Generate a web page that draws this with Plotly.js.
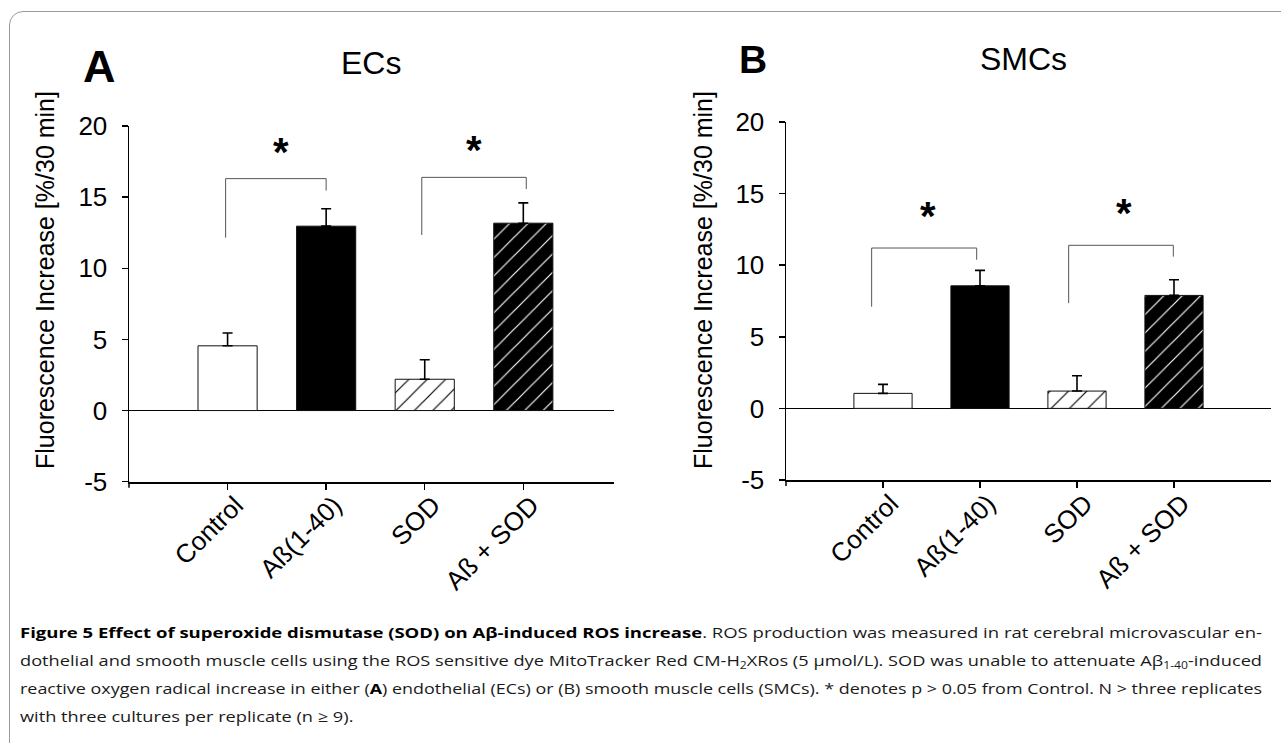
<!DOCTYPE html>
<html>
<head>
<meta charset="utf-8">
<script src="https://cdn.plot.ly/plotly-3.0.1.min.js"></script>
<style>
  html, body { margin: 0; padding: 0; background: #fff; }
  #wrap { position: relative; width: 1281px; height: 743px; overflow: hidden; }
  #chart { position: absolute; left: 0; top: 0; width: 1281px; height: 743px; }
  #frame { position: absolute; left: 9px; top: 11px; width: 1320px; height: 780px;
           border: 1px solid #9a9a9a; border-radius: 14px; pointer-events: none; }
  #caption { position: absolute; left: 20px; top: 618px; width: 1242px;
             font-family: "Open Sans", "Noto Sans", sans-serif; font-size: 15px; color: #1a1a1a; }
  #caption .ln { white-space: nowrap; height: 28px; line-height: 28px; transform-origin: 0 50%; display: block; width: max-content; }
  #caption b { color: #000; }
  #caption sub { font-size: 10px; vertical-align: -3px; line-height: 0; }
</style>
</head>
<body>
<div id="wrap">
  <div id="chart"></div>
  <div id="frame"></div>
  <div id="caption"></div>
</div>
<script>
// ---------------- data ----------------
const categories = ['Control', 'Aß(1-40)', 'SOD', 'Aß + SOD'];
const ecsMean  = [4.55, 12.96, 2.2, 13.17];
const ecsErr   = [0.9, 1.22, 1.37, 1.43];
const smcsMean = [1.05, 8.56, 1.21, 7.89];
const smcsErr  = [0.63, 1.08, 1.07, 1.09];
const yTicks   = [-5, 0, 5, 10, 15, 20];
const yTickText = ['-5', '0', '5', '10', '15', '20'];
const panelTitles  = ['ECs', 'SMCs'];
const panelLetters = ['A', 'B'];
const yTitle = 'Fluorescence Increase [%/30 min]';
const sigMark = '*';

const captionLines = [
  '<b>Figure 5 Effect of superoxide dismutase (SOD) on Aβ-induced ROS increase</b>. ROS production was measured in rat cerebral microvascular en-',
  'dothelial and smooth muscle cells using the ROS sensitive dye MitoTracker Red CM-H<sub>2</sub>XRos (5 µmol/L). SOD was unable to attenuate Aβ<sub>1-40</sub>-induced',
  'reactive oxygen radical increase in either (<b>A</b>) endothelial (ECs) or (B) smooth muscle cells (SMCs). * denotes p &gt; 0.05 from Control. N &gt; three replicates',
  'with three cultures per replicate (n ≥ 9).'
];

// ---------------- styling ----------------
const W = 1281, H = 743;
const px = v => v / W;
const py = v => 1 - v / H;
const FONT = 'Liberation Sans, Arial, sans-serif';

const barStyles = [
  { color: '#ffffff' },
  { color: '#000000' },
  { color: '#ffffff', pattern: { shape: '/', bgcolor: '#ffffff', fgcolor: '#000000', size: 13, solidity: 0.09, fillmode: 'replace' } },
  { color: '#000000', pattern: { shape: '/', bgcolor: '#000000', fgcolor: '#ffffff', size: 13, solidity: 0.09, fillmode: 'replace' } }
];

function barTraces(means, errs, xa, ya) {
  return categories.map((c, i) => ({
    type: 'bar', x: [c], y: [means[i]], xaxis: xa, yaxis: ya, width: 0.6,
    marker: Object.assign({ line: { color: '#111', width: 1 } }, barStyles[i]),
    error_y: { type: 'data', symmetric: false, array: [errs[i]], arrayminus: [0],
               color: '#000', thickness: 1.6, width: 5 },
    hoverinfo: 'skip', showlegend: false
  }));
}

const data = [].concat(
  barTraces(ecsMean, ecsErr, 'x', 'y'),
  barTraces(smcsMean, smcsErr, 'x2', 'y2')
);

const xCommon = {
  type: 'category', categoryorder: 'array', categoryarray: categories,
  showline: true, linecolor: '#000', linewidth: 2,
  ticks: 'outside', ticklen: 6, tickwidth: 1.5, tickcolor: '#000',
  tickangle: -45, tickfont: { family: FONT, size: 26, color: '#000' },
  ticklabelstandoff: -10, ticklabelshift: 8,
  showgrid: false, zeroline: false, fixedrange: true
};
const yCommon = {
  range: [-5, 20], tickvals: yTicks, ticktext: yTickText, showline: true, linecolor: '#000', linewidth: 1.5,
  ticks: 'outside', ticklen: 6, tickwidth: 1.5, tickcolor: '#000',
  tickfont: { family: FONT, size: 26, color: '#000' }, ticklabelstandoff: 9,
  showgrid: false, zeroline: true, zerolinecolor: '#000', zerolinewidth: 1.5, fixedrange: true
};

const domA = { x: [px(129), px(614)], y: [py(481.7), py(126)] };
const domB = { x: [px(786), px(1271)], y: [py(480), py(122)] };

// significance brackets: [xref, yref, xLeft, xRight, yTop, yLeftEnd, yRightEnd, starX, starY]
const brackets = [
  ['x', 'y', -0.02, 1.0, 16.3, 12.15, 15.46, 0.54, 18.55],
  ['x', 'y', 1.97, 3.03, 16.39, 12.34, 15.57, 2.50, 18.67],
  ['x2', 'y2', -0.117, 0.966, 11.2, 7.1, 10.38, 0.46, 13.77],
  ['x2', 'y2', 1.914, 2.993, 11.39, 7.35, 10.6, 2.48, 14.0]
];

const shapes = brackets.map(b => ({
  type: 'path', xref: b[0], yref: b[1],
  path: `M ${b[2]},${b[5]} L ${b[2]},${b[4]} L ${b[3]},${b[4]} L ${b[3]},${b[6]}`,
  line: { color: '#555', width: 1 }
}));
// tick mark at the start of each category axis
[domA, domB].forEach(d => shapes.push({
  type: 'line', xref: 'paper', yref: 'paper',
  x0: d.x[0], x1: d.x[0], y0: d.y[0], y1: d.y[0] - 6 / H,
  line: { color: '#000', width: 1.5 }
}));

const annotations = [];
brackets.forEach(b => annotations.push({
  xref: b[0], yref: b[1], x: b[7], y: b[8], text: sigMark, showarrow: false,
  xanchor: 'center', yanchor: 'middle', yshift: -5,
  font: { family: FONT, size: 40, color: '#000', weight: 'bold' }
}));
// y titles
[[45, 280], [703, 280]].forEach(p => annotations.push({
  xref: 'paper', yref: 'paper', x: px(p[0]), y: py(p[1]), text: yTitle, textangle: -90,
  showarrow: false, xanchor: 'center', yanchor: 'middle',
  font: { family: FONT, size: 25, color: '#000' }
}));
// panel titles
[[371, 63], [1023, 59]].forEach((p, i) => annotations.push({
  xref: 'paper', yref: 'paper', x: px(p[0]), y: py(p[1]), text: panelTitles[i],
  showarrow: false, xanchor: 'center', yanchor: 'middle',
  font: { family: FONT, size: 32, color: '#000' }
}));
// panel letters
[[99, 67, 45], [753, 59, 39]].forEach((p, i) => annotations.push({
  xref: 'paper', yref: 'paper', x: px(p[0]), y: py(p[1]), text: '<b>' + panelLetters[i] + '</b>',
  showarrow: false, xanchor: 'center', yanchor: 'middle',
  font: { family: FONT, size: p[2], color: '#000' }
}));

const layout = {
  width: W, height: H, margin: { l: 0, r: 0, t: 0, b: 0 },
  paper_bgcolor: '#fff', plot_bgcolor: 'rgba(0,0,0,0)',
  font: { family: FONT, color: '#000' },
  showlegend: false, barmode: 'overlay',
  xaxis:  Object.assign({}, xCommon, { domain: domA.x, anchor: 'y',  range: [-1, 3.92] }),
  yaxis:  Object.assign({}, yCommon, { domain: domA.y, anchor: 'x' }),
  xaxis2: Object.assign({}, xCommon, { domain: domB.x, anchor: 'y2', range: [-1, 4] }),
  yaxis2: Object.assign({}, yCommon, { domain: domB.y, anchor: 'x2' }),
  shapes: shapes, annotations: annotations
};

Plotly.newPlot('chart', data, layout, { staticPlot: true, displayModeBar: false });

// caption
const cap = document.getElementById('caption');
captionLines.forEach(t => {
  const d = document.createElement('div');
  d.className = 'ln'; d.innerHTML = t; cap.appendChild(d);
});
const lns = Array.from(cap.querySelectorAll('.ln'));
const scales = [];
lns.forEach((d, i) => {
  if (i < lns.length - 1) {
    const s = 1242 / d.getBoundingClientRect().width;
    scales.push(s);
    d.style.transform = `scaleX(${s})`;
  }
});
const avg = scales.reduce((a, b) => a + b, 0) / scales.length;
lns[lns.length - 1].style.transform = `scaleX(${avg})`;
</script>
</body>
</html>
